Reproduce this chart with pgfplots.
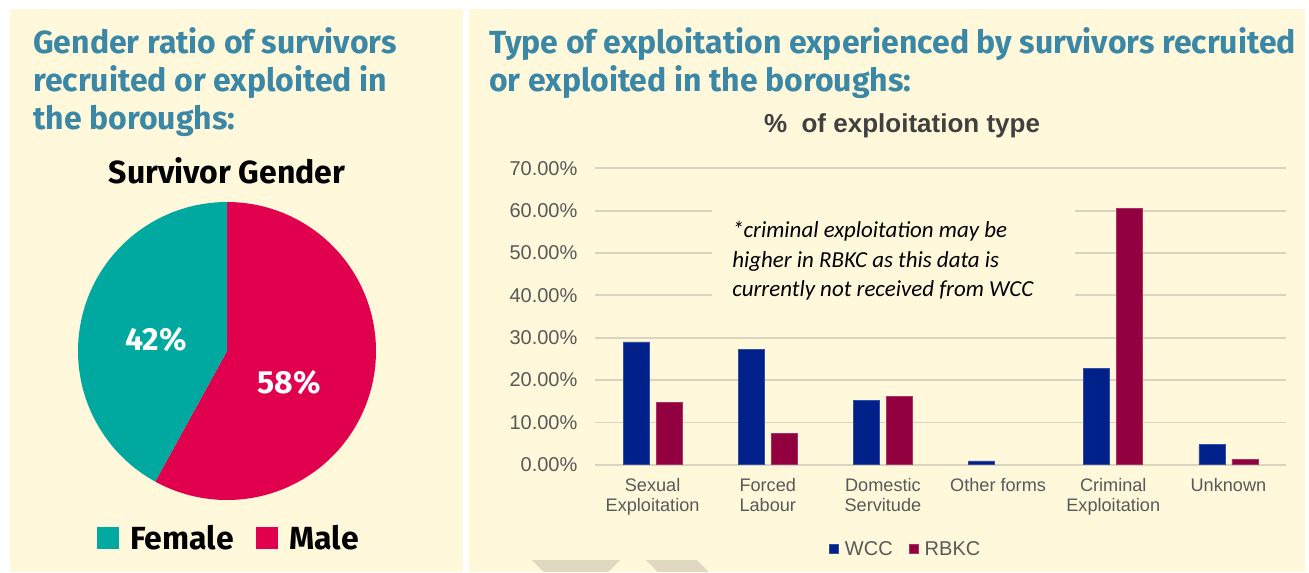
\documentclass[border=0pt]{standalone}
\usepackage{pgfplots}
\pgfplotsset{compat=1.18}
\usepackage{fontspec}
\setmainfont{Liberation Sans}
\newfontfamily\fira{Fira Sans}
\newfontfamily\carl{Carlito}
\definecolor{cream}{HTML}{FFF8DA}
\definecolor{head}{HTML}{3A87A6}
\definecolor{teal}{HTML}{00A99F}
\definecolor{male}{HTML}{E0004E}
\definecolor{wcc}{HTML}{00208A}
\definecolor{rbkc}{HTML}{930040}
\definecolor{gridc}{HTML}{D9D4C0}
\definecolor{ticklab}{HTML}{595959}
\definecolor{titlec}{HTML}{404040}
\definecolor{chev}{HTML}{DFD9C2}
\begin{document}
\begin{tikzpicture}[x=0.75pt,y=-0.75pt]
\fill[white] (0,0) rectangle (1309,572);
\fill[cream] (10,9) rectangle (463,572);
\fill[cream] (469,9) rectangle (1305,572);
% watermark chevrons
\fill[chev] (532,560) -- (620,560) -- (608,572) -- (544,572) -- cycle;
\fill[chev] (646,560) -- (697,560) -- (709,572) -- (658,572) -- cycle;
% headings
\begin{scope}[every node/.style={anchor=base west, inner sep=0, text=head, font=\fira\bfseries\fontsize{24}{28}\selectfont}]
\node at (33,53) {Gender ratio of survivors};
\node at (33,91) {recruited or exploited in};
\node at (33,129) {the boroughs:};
\node at (489,53) {Type of exploitation experienced by survivors recruited};
\node at (489,91) {or exploited in the boroughs:};
\end{scope}
\node[anchor=base, inner sep=0, font=\fira\bfseries\fontsize{24}{28}\selectfont] at (227,183) {Survivor Gender};
% pie
\pgfmathsetmacro{\female}{42}
\pgfmathsetmacro{\male}{58}
\pgfmathsetmacro{\malend}{90-3.6*\male}
\pgfmathsetmacro{\femend}{90+3.6*\female}
\begin{axis}[at={(170.25pt,-263.25pt)}, anchor=center, scale only axis, width=223.5pt, height=223.5pt,
  xmin=-1, xmax=1, ymin=-1, ymax=1, hide axis, clip=false]
\addplot[fill=male, draw=none, domain=\malend:90, samples=150] ({cos(x)},{sin(x)}) -- (axis cs:0,0) -- cycle;
\addplot[fill=teal, draw=none, domain=90:\femend, samples=150] ({cos(x)},{sin(x)}) -- (axis cs:0,0) -- cycle;
\end{axis}
\begin{scope}[every node/.style={anchor=base west, inner sep=0, text=white, font=\fira\bfseries\fontsize{24}{28}\selectfont}]
\node at (125,350) {42\%};
\node at (257,393) {58\%};
\end{scope}
% pie legend
\fill[teal] (97,527) rectangle (119,549);
\fill[male] (256,527) rectangle (278,549);
\node[anchor=base west, inner sep=0, font=\fira\bfseries\fontsize{24}{28}\selectfont] at (130,549) {Female};
\node[anchor=base west, inner sep=0, font=\fira\bfseries\fontsize{24}{28}\selectfont] at (289,549) {Male};
% bar chart title
\node[anchor=base, inner sep=0, text=titlec, font=\bfseries\fontsize{19.5}{22}\selectfont] at (902,132) {\%\ \ of exploitation type};
% bar chart
\begin{axis}[at={(446.25pt,-348.525pt)}, anchor=south west, scale only axis,
  width=518.25pt, height=222.3pt,
  xmin=-0.5, xmax=5.5, ymin=0, ymax=70,
  ytick={0,10,20,30,40,50,60,70},
  yticklabels={0.00\%,10.00\%,20.00\%,30.00\%,40.00\%,50.00\%,60.00\%,70.00\%},
  xtick={0,1,2,3,4,5},
  xticklabels={{Sexual\\Exploitation},{Forced\\Labour},{Domestic\\Servitude},{Other forms},{Criminal\\Exploitation},{Unknown}},
  ybar=5.25pt, bar width=19.5pt,
  ymajorgrids, grid style={draw=gridc, line width=1.3pt},
  axis line style={draw=none}, major tick length=0,
  yticklabel style={font=\fontsize{15}{17}\selectfont, text=ticklab, inner sep=0, anchor=east, xshift=-13pt},
  xticklabel style={font=\fontsize{13.6}{15}\selectfont, text=ticklab, inner sep=0, align=center, anchor=north, yshift=-10pt},
  legend columns=2,
  legend style={at={(0.45,-0.285)}, anchor=center, draw=none, fill=none, font=\fontsize{15}{17}\selectfont, text=ticklab,
    /tikz/every even column/.append style={column sep=10pt}},
  legend image code/.code={\fill[#1] (0pt,-3.4pt) rectangle (6.75pt,3.35pt); \path (9.5pt,0pt);},
  clip=false]
\addplot[fill=wcc, draw=wcc!80!white, line width=0.5pt] coordinates {(0,29.0) (1,27.3) (2,15.1) (3,0.9) (4,22.7) (5,4.7)};
\addplot[fill=rbkc, draw=rbkc!80!white, line width=0.5pt] coordinates {(0,14.7) (1,7.3) (2,16.1) (4,60.5) (5,1.3)};
\legend{WCC,RBKC}
\end{axis}
% annotation
\fill[cream] (712,199) rectangle (1075,306);
\begin{scope}[every node/.style={anchor=base west, inner sep=0, font=\carl\itshape\fontsize{17.2}{20}\selectfont}]
\node at (732,237) {*criminal exploitation may be};
\node at (732,267) {higher in RBKC as this data is};
\node at (732,296) {currently not received from WCC};
\end{scope}
\end{tikzpicture}
\end{document}
